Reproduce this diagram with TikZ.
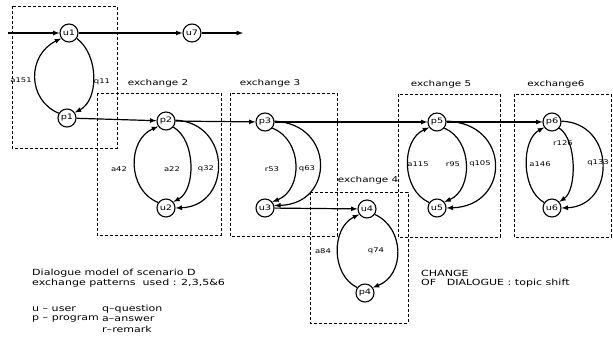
\documentclass[tikz,border=0pt]{standalone}
\usepackage{fontspec}
\setmainfont{DejaVu Sans}
\newfontfamily\widefont[FakeStretch=1.3, Ligatures=TeX]{DejaVu Sans}

\begin{document}
\begin{tikzpicture}[
	x=1pt, y=-1pt,
	state/.style={
		draw,
		circle,
		line width=1.1pt,
		minimum size=18pt,
		inner sep=0pt,
		font=\widefont\fontsize{7.5}{9}\selectfont
	},
	flow/.style={line width=1.2pt, -latex},
	group/.style={draw, line width=0.6pt, dash pattern=on 3pt off 2pt},
	title/.style={font=\widefont\fontsize{8}{9}\selectfont, inner sep=1pt},
	move/.style={font=\widefont\fontsize{6.5}{8}\selectfont, inner sep=1pt},
	note/.style={anchor=west, inner sep=0pt, font=\widefont\fontsize{8.5}{10}\selectfont}
]
\useasboundingbox (0,0) rectangle (613,352);

% exchange boxes
\draw[group] (12,6) rectangle (117,148);
\draw[group] (97,93) rectangle (221,235);
\draw[group] (230,93) rectangle (337,236);
\draw[group] (310,192) rectangle (408,323);
\draw[group] (398,94) rectangle (500,237);
\draw[group] (514,94) rectangle (611,237);

\node[title] (ex2) at (158,83) {exchange 2};
\node[title] (ex3) at (270,83) {exchange 3};
\node[title] (ex4) at (368,180) {exchange 4};
\node[title] (ex5) at (441,84) {exchange 5};
\node[title] (ex6) at (556,84) {exchange6};

% states
\node[state] (u1) at (69,33) {u1};
\node[state] (u7) at (192,33) {u7};
\node[state] (p1) at (67,118) {p1};
\node[state] (p2) at (166,121) {p2};
\node[state] (u2) at (166,208) {u2};
\node[state] (p3) at (265,122) {p3};
\node[state] (u3) at (265,208) {u3};
\node[state] (u4) at (367,209) {u4};
\node[state] (p4) at (365,293) {p4};
\node[state] (p5) at (437,122) {p5};
\node[state] (u5) at (437,208) {u5};
\node[state] (p6) at (552,122) {p6};
\node[state] (u6) at (552,208) {u6};

\coordinate (start) at (8,33);
\coordinate (stop) at (243,33);

% main line
\draw[flow] (start) -- (u1);
\draw[flow] (u1) -- (u7);
\draw[flow] (u7) -- (stop);
\draw[flow] (p1) -- (p2);
\draw[flow] (p2) -- (p3);
\draw[flow] (p3) -- (p5);
\draw[flow] (p5) -- (p6);
\draw[flow] (u3) -- (u4);

% exchange 1
\draw[flow] (p1.150) .. controls (27,100) and (27,55) .. (u1.215);
\draw[flow] (u1.325) .. controls (99,55) and (99,100) .. (p1.35);
\node[move] (a151) at (21,80) {a151};
\node[move] (q11) at (102,82) {q11};

% exchange 2
\draw[flow] (u2.145) .. controls (127,190) and (127,140) .. (p2.215);
\draw[flow] (p2.320) .. controls (196,140) and (196,190) .. (u2.40);
\draw[flow] (p2.5) .. controls (232,123) and (232,206) .. (u2.0);
\node[move] (a42) at (119,169) {a42};
\node[move] (a22) at (172,169) {a22};
\node[move] (q32) at (206,169) {q32};

% exchange 3
\draw[flow] (p3.320) .. controls (303,140) and (303,190) .. (u3.40);
\draw[flow] (p3.5) .. controls (335,124) and (335,204) .. (u3.15);
\node[move] (r53) at (272,169) {r53};
\node[move] (q63) at (307,169) {q63};

% exchange 4
\draw[flow] (p4.145) .. controls (331,275) and (331,228) .. (u4.215);
\draw[flow] (u4.325) .. controls (405,228) and (405,275) .. (p4.35);
\node[move] (a84) at (323,251) {a84};
\node[move] (q74) at (376,251) {q74};

% exchange 5
\draw[flow] (u5.145) .. controls (401,190) and (401,140) .. (p5.215);
\draw[flow] (p5.320) .. controls (473,140) and (473,190) .. (u5.40);
\draw[flow] (p5.5) .. controls (511,123) and (511,206) .. (u5.0);
\node[move] (a115) at (418,164) {a115};
\node[move] (r95) at (453,164) {r95};
\node[move] (q105) at (480,164) {q105};

% exchange 6
\draw[flow] (u6.145) .. controls (521,190) and (521,140) .. (p6.215);
\draw[flow] (p6.320) .. controls (577,140) and (577,190) .. (u6.40);
\draw[flow] (p6.5) .. controls (616,123) and (616,206) .. (u6.0);
\node[move] (a146) at (540,164) {a146};
\node[move] (r126) at (563,143) {r126};
\node[move] (q133) at (598,163) {q133};

% captions
\node[note] (cap1) at (32,273) {Dialogue model of scenario D};
\node[note] (cap2) at (32,283) {exchange patterns\ \ used : 2,3,5\&6};
\node[note] (key1) at (32,309) {u – user};
\node[note] (key2) at (32,319) {p – program};
\node[note] (key3) at (102,309) {q–question};
\node[note] (key4) at (102,319) {a–answer};
\node[note] (key5) at (102,329) {r–remark};
\node[note] (chg1) at (421,273) {CHANGE};
\node[note] (chg2) at (421,283) {OF\ \ \ DIALOGUE : topic shift};
\end{tikzpicture}
\end{document}
